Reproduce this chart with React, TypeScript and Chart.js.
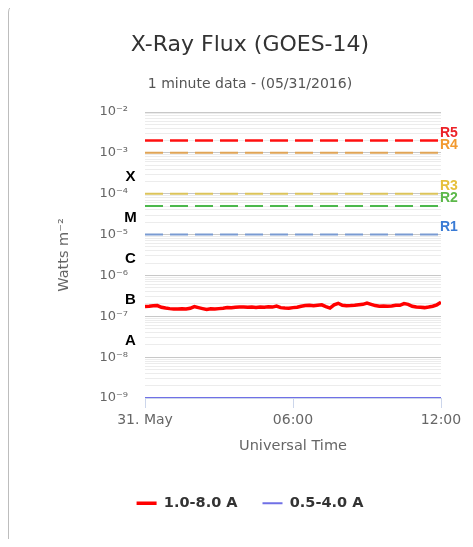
import React, { useEffect, useRef } from 'react';
import { Chart, registerables } from 'chart.js';

Chart.register(...registerables);

// ---- data ----
const minutes = [
  0, 10, 20, 30, 40, 50, 60, 70, 80, 90, 100, 110, 120, 130, 140, 150, 160, 170, 180, 190,
  200, 210, 220, 230, 240, 250, 260, 270, 280, 290, 300, 310, 320, 330, 340, 350, 360, 370, 380, 390,
  400, 410, 420, 430, 440, 450, 460, 470, 480, 490, 500, 510, 520, 530, 540, 550, 560, 570, 580, 590,
  600, 610, 620, 630, 640, 650, 660, 670, 680, 690, 700, 710, 720,
];
const fluxLong = [
  1.74e-7, 1.76e-7, 1.81e-7, 1.83e-7, 1.66e-7, 1.59e-7, 1.54e-7, 1.51e-7, 1.50e-7, 1.53e-7,
  1.50e-7, 1.57e-7, 1.73e-7, 1.63e-7, 1.54e-7, 1.46e-7, 1.53e-7, 1.50e-7, 1.54e-7, 1.57e-7,
  1.64e-7, 1.61e-7, 1.66e-7, 1.68e-7, 1.69e-7, 1.66e-7, 1.68e-7, 1.65e-7, 1.69e-7, 1.67e-7,
  1.71e-7, 1.68e-7, 1.78e-7, 1.63e-7, 1.59e-7, 1.57e-7, 1.63e-7, 1.66e-7, 1.76e-7, 1.83e-7,
  1.86e-7, 1.81e-7, 1.86e-7, 1.91e-7, 1.73e-7, 1.59e-7, 1.91e-7, 2.08e-7, 1.86e-7, 1.81e-7,
  1.83e-7, 1.86e-7, 1.91e-7, 1.96e-7, 2.10e-7, 1.96e-7, 1.83e-7, 1.76e-7, 1.78e-7, 1.76e-7,
  1.79e-7, 1.86e-7, 1.86e-7, 2.04e-7, 1.96e-7, 1.76e-7, 1.68e-7, 1.66e-7, 1.63e-7, 1.68e-7,
  1.76e-7, 1.91e-7, 2.20e-7,
];
const shortMinutes = [0, 720];
const fluxShort = [1e-9, 1e-9];

const seriesLabels = ['1.0-8.0 A', '0.5-4.0 A'];

const rLabels = ['R5', 'R4', 'R3', 'R2', 'R1'];
const rValues = [2e-3, 1e-3, 1e-4, 5e-5, 1e-5];

const classLetters = ['X', 'M', 'C', 'B', 'A'];
const classThresholds = [1e-4, 1e-5, 1e-6, 1e-7, 1e-8];

const xTickValues = [0, 360, 720];
const xTickLabels = ['31. May', '06:00', '12:00'];

const yDecadeExps = [-9, -8, -7, -6, -5, -4, -3, -2];
const yDecadeLabels = ['10⁻⁹', '10⁻⁸', '10⁻⁷', '10⁻⁶', '10⁻⁵', '10⁻⁴', '10⁻³', '10⁻²'];

// ---- styles ----
const seriesColors = ['#ff0000', '#7070e6'];
const rLineColors = ['#ff1010', '#e0a456', '#dcc45a', '#4cb84c', '#7a9bd2'];
const rTextColors = ['#ec2228', '#f29a30', '#e6c03c', '#5cb84a', '#3a7bd5'];
const FONT = '"DejaVu Sans", sans-serif';

const overlayPlugin = {
  id: 'overlay',
  afterDatasetsDraw(chart: any) {
    const { ctx, chartArea, scales } = chart;
    const y = scales.y;
    ctx.save();
    ctx.font = 'bold 14px "Liberation Sans", Arial, sans-serif';
    ctx.textBaseline = 'middle';
    ctx.textAlign = 'left';
    rLabels.forEach((lab, i) => {
      ctx.fillStyle = rTextColors[i];
      ctx.fillText(lab, chartArea.right - 1, y.getPixelForValue(rValues[i]) - 7.5);
    });
    ctx.font = 'bold 15px "Liberation Sans", Arial, sans-serif';
    ctx.textAlign = 'center';
    ctx.fillStyle = '#000';
    classLetters.forEach((c, i) => {
      ctx.fillText(c, chartArea.left - 14.5, y.getPixelForValue(classThresholds[i]) - 16.5);
    });
    ctx.restore();
  },
};

function isDecade(v: number) {
  const l = Math.log10(v);
  return Math.abs(l - Math.round(l)) < 1e-6;
}

export default function App() {
  const ref = useRef<HTMLCanvasElement | null>(null);

  useEffect(() => {
    if (!ref.current) return;
    const gridValues: number[] = [];
    yDecadeExps.forEach((e, i) => {
      if (i === yDecadeExps.length - 1) {
        gridValues.push(Math.pow(10, e));
      } else {
        for (let k = 1; k <= 9; k++) gridValues.push(k * Math.pow(10, e));
      }
    });

    const datasets: any[] = [
      {
        label: seriesLabels[0],
        data: minutes.map((m, i) => ({ x: m, y: fluxLong[i] })),
        borderColor: seriesColors[0],
        backgroundColor: seriesColors[0],
        borderWidth: 3.5,
        pointRadius: 0,
        tension: 0,
      },
      {
        label: seriesLabels[1],
        data: shortMinutes.map((m, i) => ({ x: m, y: fluxShort[i] })),
        borderColor: seriesColors[1],
        backgroundColor: seriesColors[1],
        borderWidth: 2,
        pointRadius: 0,
      },
      ...rValues.map((v, i) => ({
        label: rLabels[i],
        data: [
          { x: xTickValues[0], y: v },
          { x: xTickValues[xTickValues.length - 1], y: v },
        ],
        borderColor: rLineColors[i],
        borderWidth: i === 0 ? 2.5 : 2,
        borderDash: [18, 7],
        pointRadius: 0,
      })),
    ];

    const chart = new Chart(ref.current, {
      type: 'line',
      data: { datasets },
      plugins: [overlayPlugin],
      options: {
        animation: false,
        responsive: false,
        layout: { padding: { left: 0, right: 0, top: 0, bottom: 24.5 } },
        plugins: {
          title: {
            display: true,
            text: 'X-Ray Flux (GOES-14)',
            color: '#333',
            font: { family: FONT, size: 22, weight: 'normal' },
            padding: { top: 27, bottom: 17.2 },
          },
          subtitle: {
            display: true,
            text: '1 minute data - (05/31/2016)',
            color: '#555',
            font: { family: FONT, size: 14 },
            padding: { top: 0, bottom: 19.6 },
          },
          legend: {
            position: 'bottom',
            labels: {
              usePointStyle: true,
              pointStyle: 'line',
              pointStyleWidth: 20,
              boxHeight: 13,
              padding: 25,
              color: '#333',
              font: { family: FONT, size: 14.5, weight: 'bold' },
              filter: (item: any) => item.datasetIndex < 2,
            },
          },
          tooltip: { enabled: false },
        },
        scales: {
          x: {
            type: 'linear',
            min: 0,
            max: 720,
            afterBuildTicks: (s: any) => {
              s.ticks = xTickValues.map((v) => ({ value: v }));
            },
            afterFit: (s: any) => {
              s.height = 73;
            },
            ticks: {
              autoSkip: false,
              maxRotation: 0,
              padding: 4,
              color: '#666',
              font: { family: FONT, size: 14 },
              callback: (v: any) => {
                const i = xTickValues.indexOf(Number(v));
                return i >= 0 ? xTickLabels[i] : '';
              },
            },
            grid: {
              drawOnChartArea: false,
              drawTicks: true,
              tickLength: 10,
              color: '#ccd6eb',
            },
            border: { display: true, color: '#ccd6eb' },
            title: {
              display: true,
              text: 'Universal Time',
              color: '#666',
              font: { family: FONT, size: 14.5 },
              padding: { top: 4, bottom: 16.3 },
            },
          },
          y: {
            type: 'logarithmic',
            min: 1e-9,
            max: 1e-2,
            afterBuildTicks: (s: any) => {
              s.ticks = gridValues.map((v) => ({ value: v }));
            },
            afterFit: (s: any) => {
              s.width = 136;
            },
            ticks: {
              autoSkip: false,
              padding: 17,
              color: '#666',
              font: { family: FONT, size: 13 },
              callback: (v: any) => {
                const n = Number(v);
                if (!isDecade(n)) return '';
                const e = Math.round(Math.log10(n));
                const i = yDecadeExps.indexOf(e);
                return i >= 0 ? yDecadeLabels[i] : '';
              },
            },
            grid: {
              drawTicks: false,
              lineWidth: 1,
              color: (c: any) => (c.tick && isDecade(c.tick.value) ? '#c8c8c8' : '#ececec'),
            },
            border: { display: false },
            title: {
              display: true,
              text: 'Watts m⁻²',
              color: '#666',
              font: { family: FONT, size: 14.5 },
              padding: { top: 46.3, bottom: 0 },
            },
          },
          yRight: {
            type: 'linear',
            position: 'right',
            display: true,
            afterFit: (s: any) => {
              s.width = 50;
            },
            ticks: { display: false },
            grid: { display: false },
            border: { display: false },
          },
        },
      } as any,
    });
    return () => chart.destroy();
  }, []);

  return (
    <div style={{ position: 'relative', top: -4, width: 465, height: 535, overflow: 'hidden' }}>
      <div
        style={{
          width: 484,
          height: 560,
          border: '1px solid #bdbdbd',
          borderRadius: 8,
          boxSizing: 'border-box',
          background: '#fff',
        }}
      >
        <canvas ref={ref} width={482} height={540} style={{ display: 'block' }} />
      </div>
    </div>
  );
}
